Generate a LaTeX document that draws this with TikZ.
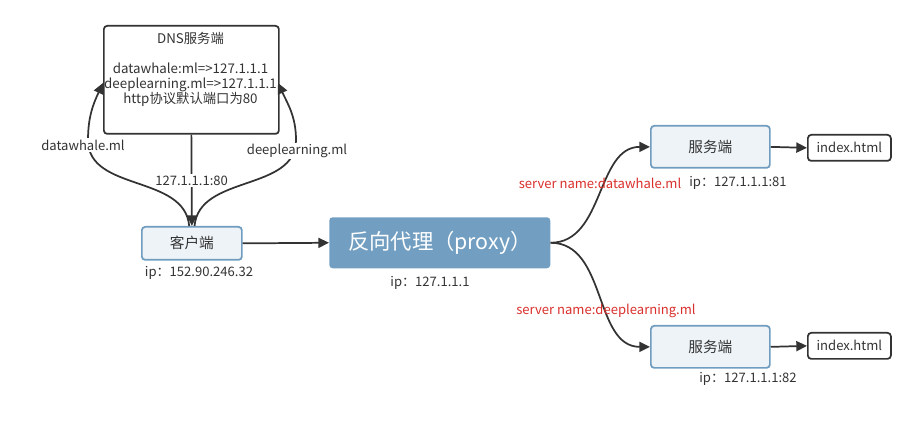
\documentclass[tikz,border=0pt]{standalone}
\usepackage{fontspec}
\setmainfont{Noto Sans CJK SC}
\usetikzlibrary{arrows.meta}
\definecolor{txtgray}{HTML}{333333}
\definecolor{boxblue}{HTML}{6F9CBF}
\definecolor{boxfill}{HTML}{EEF3F7}
\definecolor{proxyblue}{HTML}{729FC1}
\definecolor{namered}{HTML}{D9302C}
\tikzset{
    lightbox/.style={draw=boxblue, fill=boxfill, line width=1.3pt, rounded corners=2.5pt,
        text=txtgray, font=\fontsize{11}{12}\selectfont, anchor=north west, inner sep=0pt},
    darkbox/.style={draw=txtgray, line width=1.3pt, rounded corners=2.5pt,
        text=txtgray, anchor=north west, inner sep=0pt},
    iplabel/.style={text=txtgray, font=\fontsize{9.8}{11}\selectfont},
    conn/.style={draw=txtgray, line width=1.3pt, -{Triangle[length=8pt,width=7.5pt]}},
}

\begin{document}
\begin{tikzpicture}[x=0.75pt, y=-0.75pt]
    \useasboundingbox (0,0) rectangle (919,423);

    % DNS server
    \node[darkbox, minimum width=175*0.75pt, minimum height=108*0.75pt] (dns) at (103,25) {};
    \node[iplabel, align=center, anchor=north, font=\fontsize{10}{11.25}\selectfont] (dnstxt) at (190.5,27.5)
        {DNS服务端\\[11.25pt] datawhale:ml=>127.1.1.1\\ deeplearning.ml=>127.1.1.1\\ http协议默认端口为80};
    \coordinate (dnsL) at (103,83);
    \coordinate (dnsR) at (278,83);

    % client
    \node[lightbox, minimum width=100*0.75pt, minimum height=33*0.75pt] (client) at (141,226) {客户端};
    \node[iplabel] (clientip) at (199,273) {ip：152.90.246.32};

    % reverse proxy
    \node[fill=proxyblue, rounded corners=2.5pt, text=white, anchor=north west, inner sep=0pt,
        minimum width=221*0.75pt, minimum height=51*0.75pt, font=\fontsize{16}{18}\selectfont]
        (proxy) at (329,217) {反向代理（proxy）};
    \node[iplabel] (proxyip) at (430,283) {ip：127.1.1.1};

    % backend servers
    \node[lightbox, minimum width=119*0.75pt, minimum height=42*0.75pt] (srva) at (650,125) {服务端};
    \node[iplabel] (srvaip) at (738,183) {ip：127.1.1.1:81};
    \node[darkbox, minimum width=83*0.75pt, minimum height=26*0.75pt, font=\fontsize{9.8}{11}\selectfont]
        (idxa) at (807,134) {index.html};

    \node[lightbox, minimum width=119*0.75pt, minimum height=42*0.75pt] (srvb) at (650,325) {服务端};
    \node[iplabel] (srvbip) at (748,379) {ip：127.1.1.1:82};
    \node[darkbox, minimum width=83*0.75pt, minimum height=26*0.75pt, font=\fontsize{9.8}{11}\selectfont]
        (idxb) at (807,332) {index.html};

    % DNS lookups
    \draw[conn] (dns.south) -- (client.north)
        node[pos=0.5, fill=white, iplabel, inner sep=1pt] {127.1.1.1:80};
    \draw[conn] ([xshift=-2pt]client.north) to[out=95, in=-90] (88,140) to[out=90, in=-115] (dnsL);
    \draw[conn] ([xshift=2pt]client.north) to[out=85, in=-90] (296,140) to[out=90, in=-65] (dnsR);
    \node[iplabel, fill=white, inner sep=1pt] (lbla) at (83,145) {datawhale.ml};
    \node[iplabel, fill=white, inner sep=1pt] (lblb) at (297,151) {deeplearning.ml};

    % requests
    \draw[conn] (client.east) -- (proxy.west);
    \draw[conn] (proxy.east) to[out=0, in=180] (srva.west);
    \draw[conn] (proxy.east) to[out=0, in=180] (srvb.west);
    \node[iplabel, text=namered] (namea) at (600,183) {server name:datawhale.ml};
    \node[iplabel, text=namered] (nameb) at (606,311) {server name:deeplearning.ml};

    \draw[conn] (srva.east) -- (idxa.west);
    \draw[conn] (srvb.east) -- (idxb.west);
\end{tikzpicture}
\end{document}
